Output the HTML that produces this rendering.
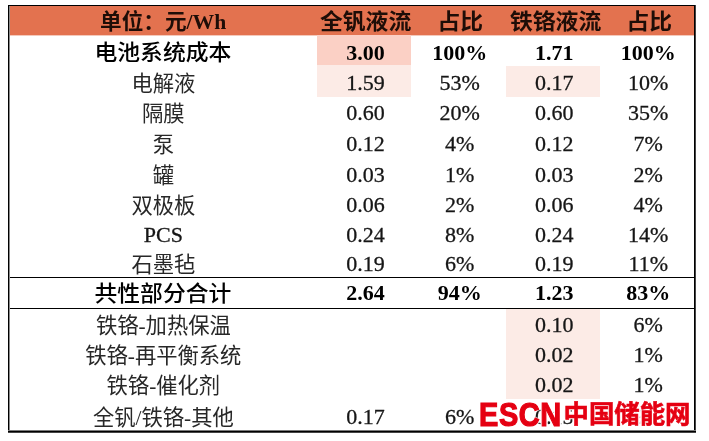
<!DOCTYPE html>
<html lang="zh-CN"><head><meta charset="utf-8"><title>成本对比</title>
<style>
html,body{margin:0;padding:0;background:#fff;}
body{width:709px;height:441px;position:relative;overflow:hidden;font-family:"Liberation Serif","Noto Sans CJK SC",serif;color:#161616;}
.hd{position:absolute;left:9px;top:6px;width:685px;height:29px;background:#e3724f;}
.c{position:absolute;text-align:center;white-space:nowrap;font-size:22px;line-height:30px;height:30px;}
.c span{display:inline-block;}
.z{font-size:21.3px;position:relative;top:1px;color:#282828;}
.zb{font-size:21.3px;transform:scaleX(1.07);position:relative;}
.b{font-weight:bold;color:#000;}
.b .zb{font-weight:500;}
.h{font-weight:bold;color:#1e0d07;}
.n{-webkit-text-stroke:0.3px #161616;}
.bg{position:absolute;}
.ln{position:absolute;background:#000;}
.wm{position:absolute;color:#e50012;white-space:nowrap;text-shadow:0 0 1px #fff,0 0 2px #fff,0 0 2px #fff,1px 0 1px #fff,-1px 0 1px #fff,0 1px 1px #fff,0 -1px 1px #fff,2px 0 1px #fff,-2px 0 1px #fff;}
.en{left:479px;top:397.5px;font:bold 34px/32px 'Liberation Sans',sans-serif;-webkit-text-stroke:1.2px #e50012;letter-spacing:0.7px;transform-origin:0 0;transform:scaleX(0.852);}
</style></head><body>
<div class="hd"></div>
<div class="bg" style="left:9px;top:35px;width:685px;height:1px;background:#f4c9bb"></div>
<div class="bg" style="left:317.4px;top:35.0px;width:94.0px;height:30.4px;background:#fbd0c5"></div>
<div class="bg" style="left:317.4px;top:65.4px;width:94.0px;height:31.2px;background:#fcebe6"></div>
<div class="bg" style="left:506.0px;top:66.4px;width:94.2px;height:30.5px;background:#fcebe6"></div>
<div class="bg" style="left:506.0px;top:308.5px;width:94.2px;height:90.4px;background:#fcebe6"></div>
<div class="c h" style="left:9.3px;width:308.1px;top:7px"><span class="zb" style="transform:scaleX(1.016)">单位：元/Wh</span></div>
<div class="c h" style="left:318.9px;width:94.0px;top:7px"><span class="zb">全钒液流</span></div>
<div class="c h" style="left:412.9px;width:94.6px;top:7px"><span class="zb">占比</span></div>
<div class="c h" style="left:508.3px;width:94.5px;top:7px"><span class="zb">铁铬液流</span></div>
<div class="c h" style="left:603.0px;width:93.5px;top:7px"><span class="zb">占比</span></div>
<div class="c b" style="left:9.3px;width:308.1px;top:38px"><span class="zb">电池系统成本</span></div>
<div class="c b" style="left:318.4px;width:94.0px;top:38px"><span>3.00</span></div>
<div class="c b" style="left:412.4px;width:94.6px;top:38px"><span>100%</span></div>
<div class="c b" style="left:507.0px;width:94.5px;top:38px"><span>1.71</span></div>
<div class="c b" style="left:601.5px;width:93.5px;top:38px"><span>100%</span></div>
<div class="c" style="left:9.3px;width:308.1px;top:68px"><span class="z">电解液</span></div>
<div class="c" style="left:318.4px;width:94.0px;top:68px"><span class="n">1.59</span></div>
<div class="c" style="left:412.4px;width:94.6px;top:68px"><span class="n">53%</span></div>
<div class="c" style="left:507.0px;width:94.5px;top:68px"><span class="n">0.17</span></div>
<div class="c" style="left:601.5px;width:93.5px;top:68px"><span class="n">10%</span></div>
<div class="c" style="left:9.3px;width:308.1px;top:98px"><span class="z">隔膜</span></div>
<div class="c" style="left:318.4px;width:94.0px;top:98px"><span class="n">0.60</span></div>
<div class="c" style="left:412.4px;width:94.6px;top:98px"><span class="n">20%</span></div>
<div class="c" style="left:507.0px;width:94.5px;top:98px"><span class="n">0.60</span></div>
<div class="c" style="left:601.5px;width:93.5px;top:98px"><span class="n">35%</span></div>
<div class="c" style="left:9.3px;width:308.1px;top:129px"><span class="z">泵</span></div>
<div class="c" style="left:318.4px;width:94.0px;top:129px"><span class="n">0.12</span></div>
<div class="c" style="left:412.4px;width:94.6px;top:129px"><span class="n">4%</span></div>
<div class="c" style="left:507.0px;width:94.5px;top:129px"><span class="n">0.12</span></div>
<div class="c" style="left:601.5px;width:93.5px;top:129px"><span class="n">7%</span></div>
<div class="c" style="left:9.3px;width:308.1px;top:160px"><span class="z">罐</span></div>
<div class="c" style="left:318.4px;width:94.0px;top:160px"><span class="n">0.03</span></div>
<div class="c" style="left:412.4px;width:94.6px;top:160px"><span class="n">1%</span></div>
<div class="c" style="left:507.0px;width:94.5px;top:160px"><span class="n">0.03</span></div>
<div class="c" style="left:601.5px;width:93.5px;top:160px"><span class="n">2%</span></div>
<div class="c" style="left:9.3px;width:308.1px;top:190px"><span class="z">双极板</span></div>
<div class="c" style="left:318.4px;width:94.0px;top:190px"><span class="n">0.06</span></div>
<div class="c" style="left:412.4px;width:94.6px;top:190px"><span class="n">2%</span></div>
<div class="c" style="left:507.0px;width:94.5px;top:190px"><span class="n">0.06</span></div>
<div class="c" style="left:601.5px;width:93.5px;top:190px"><span class="n">4%</span></div>
<div class="c" style="left:9.3px;width:308.1px;top:220px"><span class="n">PCS</span></div>
<div class="c" style="left:318.4px;width:94.0px;top:220px"><span class="n">0.24</span></div>
<div class="c" style="left:412.4px;width:94.6px;top:220px"><span class="n">8%</span></div>
<div class="c" style="left:507.0px;width:94.5px;top:220px"><span class="n">0.24</span></div>
<div class="c" style="left:601.5px;width:93.5px;top:220px"><span class="n">14%</span></div>
<div class="c" style="left:9.3px;width:308.1px;top:249px"><span class="z">石墨毡</span></div>
<div class="c" style="left:318.4px;width:94.0px;top:249px"><span class="n">0.19</span></div>
<div class="c" style="left:412.4px;width:94.6px;top:249px"><span class="n">6%</span></div>
<div class="c" style="left:507.0px;width:94.5px;top:249px"><span class="n">0.19</span></div>
<div class="c" style="left:601.5px;width:93.5px;top:249px"><span class="n">11%</span></div>
<div class="c b" style="left:9.3px;width:308.1px;top:278px"><span class="zb" style="top:1px">共性部分合计</span></div>
<div class="c b" style="left:318.4px;width:94.0px;top:278px"><span>2.64</span></div>
<div class="c b" style="left:412.4px;width:94.6px;top:278px"><span>94%</span></div>
<div class="c b" style="left:507.0px;width:94.5px;top:278px"><span>1.23</span></div>
<div class="c b" style="left:601.5px;width:93.5px;top:278px"><span>83%</span></div>
<div class="c" style="left:9.3px;width:308.1px;top:310px"><span class="z">铁铬-加热保温</span></div>
<div class="c" style="left:507.0px;width:94.5px;top:310px"><span class="n">0.10</span></div>
<div class="c" style="left:601.5px;width:93.5px;top:310px"><span class="n">6%</span></div>
<div class="c" style="left:9.3px;width:308.1px;top:340px"><span class="z">铁铬-再平衡系统</span></div>
<div class="c" style="left:507.0px;width:94.5px;top:340px"><span class="n">0.02</span></div>
<div class="c" style="left:601.5px;width:93.5px;top:340px"><span class="n">1%</span></div>
<div class="c" style="left:9.3px;width:308.1px;top:370px"><span class="z">铁铬-催化剂</span></div>
<div class="c" style="left:507.0px;width:94.5px;top:370px"><span class="n">0.02</span></div>
<div class="c" style="left:601.5px;width:93.5px;top:370px"><span class="n">1%</span></div>
<div class="c" style="left:9.3px;width:308.1px;top:402px"><span class="z">全钒/铁铬-其他</span></div>
<div class="c" style="left:318.4px;width:94.0px;top:402px"><span class="n">0.17</span></div>
<div class="c" style="left:412.4px;width:94.6px;top:402px"><span class="n">6%</span></div>
<div class="c" style="left:507.0px;width:94.5px;top:402px"><span class="n">0.15</span></div>
<div class="c" style="left:601.5px;width:93.5px;top:402px"><span class="n">9%</span></div>
<div class="ln" style="left:9px;width:685px;top:277px;height:1px"></div>
<div class="ln" style="left:9px;width:685px;top:308px;height:1px"></div>
<div class="ln" style="left:8px;top:5px;width:688px;height:1px"></div>
<div class="ln" style="left:8px;top:5px;width:1px;height:428px"></div>
<div class="ln" style="left:9px;top:6px;width:1px;height:425px;background:#8a8a8a"></div>
<div class="ln" style="left:694px;top:5px;width:1px;height:428px"></div>
<div class="ln" style="left:695px;top:5px;width:1px;height:428px;background:#444"></div>
<div class="ln" style="left:8px;top:430px;width:688px;height:1px;background:#7a7a7a"></div>
<div class="ln" style="left:8px;top:431px;width:688px;height:1px"></div>
<div class="ln" style="left:8px;top:432px;width:688px;height:1px;background:#444"></div>
<div class="wm en">ESCN</div>
<div class="wm" style="left:563.5px;top:396px;font:bold 25.4px/32px 'Noto Sans CJK SC',sans-serif;-webkit-text-stroke:0.6px #e50012;">中国储能网</div>
</body></html>
